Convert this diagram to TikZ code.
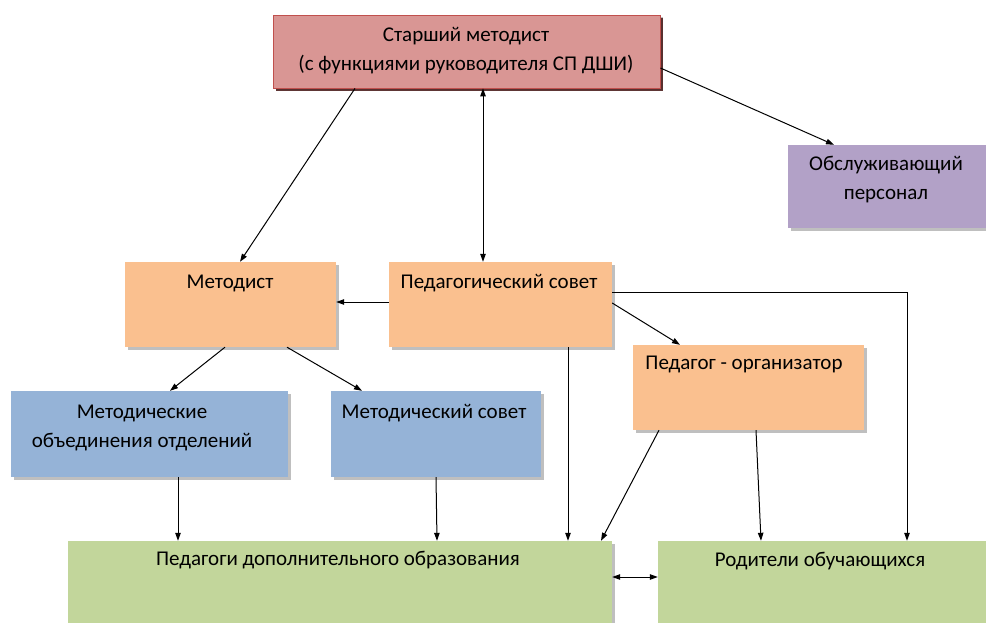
\documentclass[tikz,border=0pt]{standalone}
\usepackage{fontspec}
\setmainfont{Carlito}
\usepackage{xcolor}
\definecolor{red1}{RGB}{217,150,148}
\definecolor{red2}{RGB}{192,80,77}
\definecolor{violet1}{RGB}{178,161,199}
\definecolor{orange1}{RGB}{250,192,143}
\definecolor{blue1}{RGB}{149,179,215}
\definecolor{green1}{RGB}{194,214,155}
\usepackage{tikz}
\usetikzlibrary{positioning, arrows.meta, shadows}
\tikzstyle{box} = [
    rectangle, inner sep=0pt,
    drop shadow={shadow xshift=2.5pt, shadow yshift=-2.5pt, fill=black, opacity=0.25},
]
\tikzstyle{lead} = [
    box,
    fill=red1,
    draw=red2,
    line width=0.8pt,
    drop shadow={shadow xshift=3pt, shadow yshift=-3pt, fill=red2!40!black, opacity=0.9},
]
\tikzstyle{support} = [box, fill=violet1]
\tikzstyle{unit} = [box, fill=orange1]
\tikzstyle{assoc} = [box, fill=blue1]
\tikzstyle{people} = [box, fill=green1]
\tikzstyle{lbl} = [inner sep=0pt, align=center, font=\fontsize{21}{29}\selectfont]
\tikzstyle{arrow} = [->, >={Triangle[length=8pt,width=5.5pt]}, line width=1pt]

\begin{document}
\begin{tikzpicture}[x=1pt, y=-1pt]
    \useasboundingbox (0,0) rectangle (986,623);

    % boxes
    \node (star) at (466.5, 51.5) [lead, minimum width=387pt, minimum height=73pt] {};
    \node (obsl) at (887, 186.5) [support, minimum width=198pt, minimum height=83pt] {};
    \node (metod) at (230.5, 304.5) [unit, minimum width=211pt, minimum height=85pt] {};
    \node (pedsov) at (500.5, 304.5) [unit, minimum width=223pt, minimum height=85pt] {};
    \node (org) at (748.5, 387.5) [unit, minimum width=231pt, minimum height=85pt] {};
    \node (mo) at (149.5, 434) [assoc, minimum width=277pt, minimum height=86pt] {};
    \node (msov) at (436, 434) [assoc, minimum width=210pt, minimum height=86pt] {};
    \node (peddo) at (340, 582) [people, minimum width=544pt, minimum height=82pt] {};
    \node (rod) at (822, 582) [people, minimum width=328pt, minimum height=82pt] {};

    % texts
    \node (star-txt) at (466, 51) [lbl] {Старший методист\\(с функциями руководителя СП ДШИ)};
    \node (obsl-txt) at (886, 180) [lbl] {Обслуживающий\\персонал};
    \node (metod-txt) at (230, 283) [lbl] {Методист};
    \node (pedsov-txt) at (499, 283) [lbl] {Педагогический совет};
    \node (org-txt) at (744, 364) [lbl] {Педагог - организатор};
    \node (mo-txt) at (142, 428) [lbl] {Методические\\объединения отделений};
    \node (msov-txt) at (434, 413) [lbl] {Методический совет};
    \node (peddo-txt) at (338, 560) [lbl] {Педагоги дополнительного образования};
    \node (rod-txt) at (820, 561) [lbl] {Родители обучающихся};

    % arrows
    \draw [arrow] ([xshift=-111.5pt]star.south) -- ([xshift=9.5pt]metod.north);
    \draw [arrow, <->] ([xshift=16.5pt]star.south) -- ([xshift=-17.5pt]pedsov.north);
    \draw [arrow] ([yshift=-16.5pt]star.east) -- ([xshift=-53pt]obsl.north);
    \draw [arrow] ([yshift=2.5pt]pedsov.west) -- ([yshift=2.5pt]metod.east);
    \draw [arrow] ([xshift=-5.5pt]metod.south) -- ([xshift=20.5pt]mo.north);
    \draw [arrow] ([xshift=56.5pt]metod.south) -- ([xshift=-74pt]msov.north);
    \draw [arrow] ([yshift=12.5pt]pedsov.east) -| ([xshift=85pt]rod.north);
    \draw [arrow] ([yshift=1.5pt]pedsov.east) -- ([xshift=-68.5pt]org.north);
    \draw [arrow] ([xshift=67.5pt]pedsov.south) -- ([xshift=228pt]peddo.north);
    \draw [arrow] ([xshift=-89.5pt]org.south) -- ([xshift=261pt]peddo.north);
    \draw [arrow] ([xshift=7.5pt]org.south) -- ([xshift=-61pt]rod.north);
    \draw [arrow] ([xshift=28.5pt]mo.south) -- ([xshift=-162pt]peddo.north);
    \draw [arrow] (msov.south) -- ([xshift=97pt]peddo.north);
    \draw [arrow, <->] ([yshift=5pt]peddo.east) -- ([yshift=5pt]rod.west);

\end{tikzpicture}
\end{document}
